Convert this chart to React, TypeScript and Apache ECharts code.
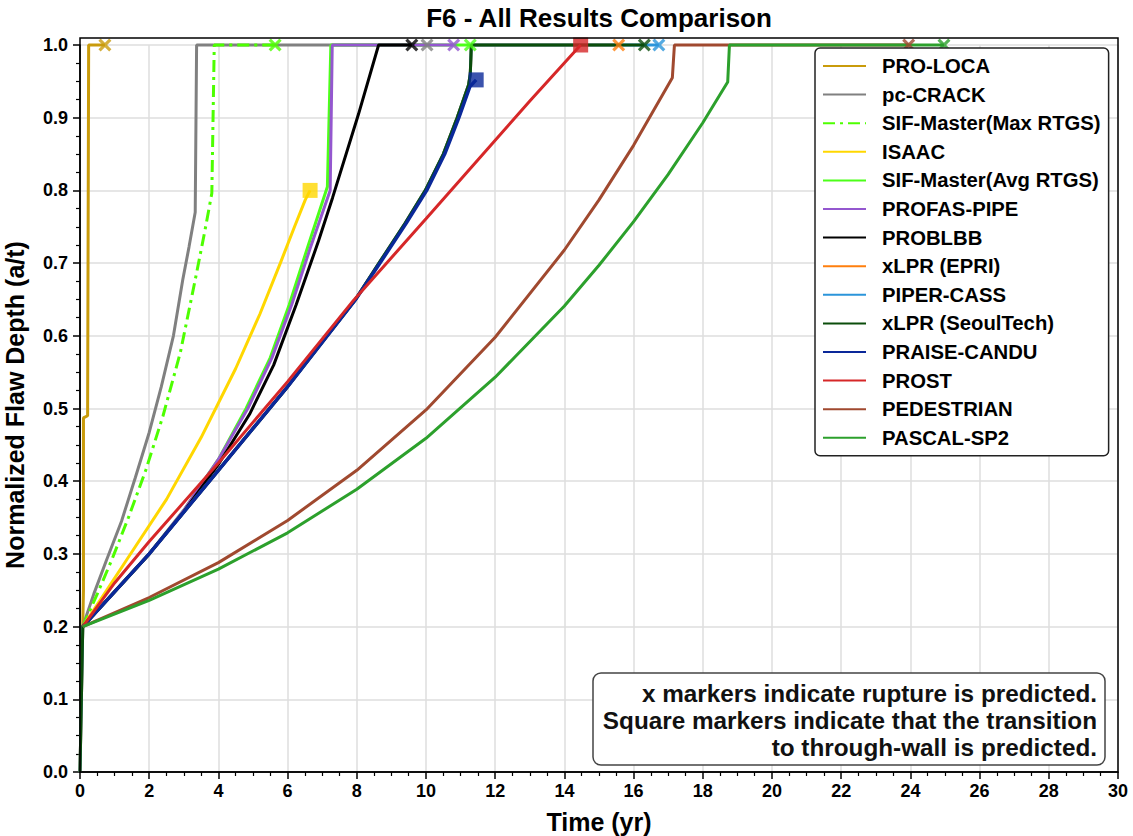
import React, { useEffect, useRef } from "react";
import * as echarts from "echarts";

const FONT = '"Liberation Sans", Arial, Helvetica, sans-serif';

// ---- data (time in years, normalized depth a/t) ----
const proLocaT = [0.08, 0.1, 0.1, 0.22, 0.25, 0.72];
const proLocaV = [0.2, 0.25, 0.487, 0.49, 1.0, 1.0];

const pcCrackT = [0.08, 0.4, 0.77, 1.2, 1.6, 2.0, 2.35, 2.7, 2.97, 3.15, 3.33, 3.37, 10.03];
const pcCrackV = [0.2, 0.245, 0.292, 0.345, 0.405, 0.467, 0.53, 0.6, 0.677, 0.722, 0.77, 1.0, 1.0];

const sifMaxT = [0.08, 0.5, 0.92, 1.4, 1.9, 2.4, 2.9, 3.33, 3.6, 3.81, 3.88, 5.64];
const sifMaxV = [0.2, 0.245, 0.292, 0.35, 0.415, 0.49, 0.577, 0.677, 0.742, 0.796, 1.0, 1.0];

const isaacT = [0.08, 1.35, 2.5, 3.5, 4.5, 5.2, 5.79, 6.2, 6.51, 6.65];
const isaacV = [0.2, 0.292, 0.375, 0.46, 0.555, 0.63, 0.7, 0.75, 0.787, 0.8];

const sifAvgT = [0.08, 2, 3, 4, 4.8, 5.5, 6.05, 6.6, 7.15, 7.25, 11.28];
const sifAvgV = [0.2, 0.3, 0.36, 0.43, 0.5, 0.57, 0.643, 0.725, 0.805, 1.0, 1.0];

const profasT = [0.08, 2, 3, 4, 4.85, 5.55, 6.12, 6.65, 7.23, 7.29, 10.8];
const profasV = [0.2, 0.3, 0.36, 0.43, 0.5, 0.57, 0.643, 0.72, 0.8, 1.0, 1.0];

const problbbT = [0.08, 2, 3, 4, 4.9, 5.6, 6.25, 6.89, 7.3, 8.05, 8.63, 9.59];
const problbbV = [0.2, 0.3, 0.358, 0.423, 0.492, 0.56, 0.643, 0.73, 0.79, 0.905, 1.0, 1.0];

const xlprEpriT = [0, 0.08, 2, 4, 6, 7.95, 8.64, 9.4, 9.98, 10.5, 10.9, 11.23, 11.28, 11.31, 15.57];
const xlprEpriV = [0, 0.2, 0.3, 0.415, 0.53, 0.649, 0.7, 0.755, 0.8, 0.85, 0.9, 0.945, 0.96, 1.0, 1.0];

const piperT = [0, 0.08, 2, 4, 6, 7.95, 8.64, 9.4, 9.98, 10.5, 10.9, 11.23, 11.28, 11.31, 16.73];
const piperV = [0, 0.2, 0.3, 0.415, 0.53, 0.649, 0.7, 0.755, 0.8, 0.85, 0.9, 0.945, 0.96, 1.0, 1.0];

const xlprSeoulT = [0, 0.08, 2, 4, 6, 7.95, 8.64, 9.4, 9.98, 10.5, 10.9, 11.23, 11.28, 11.31, 16.31];
const xlprSeoulV = [0, 0.2, 0.3, 0.415, 0.53, 0.649, 0.7, 0.755, 0.8, 0.85, 0.9, 0.945, 0.96, 1.0, 1.0];

const praiseT = [0.08, 2, 4, 6, 7.95, 8.67, 9.43, 10.02, 10.54, 10.95, 11.27, 11.45];
const praiseV = [0.2, 0.3, 0.415, 0.53, 0.649, 0.7, 0.755, 0.8, 0.85, 0.9, 0.943, 0.952];

const prostT = [0.08, 1, 2, 4, 6, 7.91, 10, 13.02, 14.47];
const prostV = [0.2, 0.26, 0.317, 0.425, 0.537, 0.649, 0.761, 0.924, 1.0];

const pedT = [0.08, 2, 4, 6, 8, 10, 12, 14, 15, 16, 17.12, 17.18, 23.95];
const pedV = [0.2, 0.24, 0.288, 0.346, 0.415, 0.498, 0.598, 0.718, 0.787, 0.862, 0.955, 1.0, 1.0];

const pascalT = [0.08, 2, 4, 6, 8, 10, 12, 14, 15, 16, 17, 18, 18.72, 18.77, 24.97];
const pascalV = [0.2, 0.236, 0.279, 0.329, 0.389, 0.459, 0.543, 0.641, 0.697, 0.757, 0.822, 0.893, 0.949, 1.0, 1.0];

const seriesNames = [
  "PRO-LOCA",
  "pc-CRACK",
  "SIF-Master(Max RTGS)",
  "ISAAC",
  "SIF-Master(Avg RTGS)",
  "PROFAS-PIPE",
  "PROBLBB",
  "xLPR (EPRI)",
  "PIPER-CASS",
  "xLPR (SeoulTech)",
  "PRAISE-CANDU",
  "PROST",
  "PEDESTRIAN",
  "PASCAL-SP2",
];
const seriesColors = [
  "#c99b0b",
  "#808080",
  "#4dff00",
  "#ffd700",
  "#4cff19",
  "#9457cf",
  "#000000",
  "#ff7f0e",
  "#2b95da",
  "#0b4d0b",
  "#0a2899",
  "#d62728",
  "#a0492f",
  "#2ca02c",
];
const seriesT = [proLocaT, pcCrackT, sifMaxT, isaacT, sifAvgT, profasT, problbbT, xlprEpriT, piperT, xlprSeoulT, praiseT, prostT, pedT, pascalT];
const seriesV = [proLocaV, pcCrackV, sifMaxV, isaacV, sifAvgV, profasV, problbbV, xlprEpriV, piperV, xlprSeoulV, praiseV, prostV, pedV, pascalV];

// rupture (x) markers
const ruptureSeries = [0, 1, 2, 4, 5, 6, 7, 8, 9, 12, 13];
const ruptureT = [0.72, 10.03, 5.64, 11.28, 10.8, 9.59, 15.57, 16.73, 16.31, 23.95, 24.97];
const ruptureV = [1.0, 1.0, 1.0, 1.0, 1.0, 1.0, 1.0, 1.0, 1.0, 1.0, 1.0];

// through-wall (square) markers
const squareSeries = [3, 10, 11];
const squareT = [6.65, 11.45, 14.47];
const squareV = [0.8, 0.952, 1.0];

const noteLines = [
  "x markers indicate rupture is predicted.",
  "Square markers indicate that the transition",
  "to through-wall is predicted.",
];

const X_PATH =
  "path://M0,1.7 L1.7,0 L5,3.3 L8.3,0 L10,1.7 L6.7,5 L10,8.3 L8.3,10 L5,6.7 L1.7,10 L0,8.3 L3.3,5 Z";

export default function App() {
  const ref = useRef<HTMLDivElement>(null);

  useEffect(() => {
    const chart = echarts.init(ref.current!, null, { renderer: "svg" });

    const lineSeries = seriesNames.map((name, i) => ({
      type: "line",
      name,
      data: seriesT[i].map((t, k) => [t, seriesV[i][k]]),
      showSymbol: false,
      symbol: "none",
      clip: false,
      z: 2,
      emphasis: { disabled: true },
      itemStyle: { color: seriesColors[i] },
      lineStyle: {
        color: seriesColors[i],
        width: i === 10 ? 3.5 : 3,
        type: i === 2 ? [12, 5, 3, 5] : "solid",
      },
    }));

    const rupture = {
      type: "scatter",
      name: "_rupture",
      symbol: X_PATH,
      symbolSize: 13,
      clip: false,
      z: 3,
      emphasis: { disabled: true },
      data: ruptureT.map((t, k) => ({
        value: [t, ruptureV[k]],
        itemStyle: { color: seriesColors[ruptureSeries[k]] },
      })),
    };
    const squares = {
      type: "scatter",
      name: "_through",
      symbol: "rect",
      symbolSize: 15,
      clip: false,
      z: 3,
      emphasis: { disabled: true },
      data: squareT.map((t, k) => ({
        value: [t, squareV[k]],
        itemStyle: { color: seriesColors[squareSeries[k]] },
      })),
    };

    const axisCommon = {
      axisLine: { show: true, onZero: false, lineStyle: { color: "#000", width: 1.5 } },
      axisTick: { show: true, inside: false, length: 7, lineStyle: { color: "#000", width: 1.5 } },
      minorTick: { show: true, splitNumber: 4, length: 4, lineStyle: { color: "#000", width: 1.2 } },
      splitLine: { show: true, lineStyle: { color: "#dedede", width: 1.5 } },
    };

    const labelStyle = {
      fontFamily: FONT,
      fontWeight: "bold",
      fontSize: 18,
      color: "#000",
    };

    const option = {
      animation: false,
      backgroundColor: "#fff",
      grid: { left: 80, right: 15, top: 45, bottom: 64, containLabel: false },
      xAxis: {
        type: "value",
        min: 0,
        max: 30,
        interval: 2,
        ...axisCommon,
        axisLabel: { ...labelStyle, margin: 10 },
      },
      yAxis: {
        type: "value",
        min: 0,
        max: 1,
        interval: 0.1,
        ...axisCommon,
        axisLabel: {
          ...labelStyle,
          margin: 12,
          formatter: (v: number) => v.toFixed(1),
        },
      },
      legend: {
        data: seriesNames,
        orient: "vertical",
        left: 815,
        top: 48,
        itemWidth: 43,
        itemHeight: 14,
        itemGap: 8.6,
        padding: [8, 8, 8, 7],
        backgroundColor: "#fff",
        borderColor: "#222",
        borderWidth: 1.5,
        borderRadius: 5,
        selectedMode: false,
        z: 10,
        itemStyle: { color: "rgba(0,0,0,0)", borderColor: "rgba(0,0,0,0)", borderWidth: 0, opacity: 0 },
        textStyle: {
          fontFamily: FONT,
          fontWeight: "bold",
          fontSize: 20.3,
          color: "#000",
          lineHeight: 20,
          padding: [0, 0, 0, 11],
        },
      },
      graphic: [
        {
          type: "rect",
          z: 50,
          silent: true,
          shape: { x: 80, y: 38, width: 1038, height: 734 },
          style: { fill: "none", stroke: "#000", lineWidth: 1.5 },
        },
        {
          type: "text",
          z: 50,
          x: 599,
          y: 18,
          style: {
            text: "F6 - All Results Comparison",
            fontFamily: FONT,
            fontWeight: "bold",
            fontSize: 26,
            fill: "#000",
            align: "center",
            verticalAlign: "middle",
          },
        },
        {
          type: "text",
          z: 50,
          x: 599,
          y: 822,
          style: {
            text: "Time (yr)",
            fontFamily: FONT,
            fontWeight: "bold",
            fontSize: 25,
            fill: "#000",
            align: "center",
            verticalAlign: "middle",
          },
        },
        {
          type: "text",
          z: 50,
          x: 15,
          y: 405,
          rotation: Math.PI / 2,
          style: {
            text: "Normalized Flaw Depth (a/t)",
            fontFamily: FONT,
            fontWeight: "bold",
            fontSize: 25,
            fill: "#000",
            align: "center",
            verticalAlign: "middle",
          },
        },
        {
          type: "rect",
          z: 60,
          silent: true,
          shape: { x: 593, y: 673, width: 512, height: 92, r: 8 },
          style: { fill: "#fff", stroke: "#444", lineWidth: 1.5 },
        },
        ...noteLines.map((txt, k) => ({
          type: "text",
          z: 61,
          x: 1097,
          y: 693 + k * 27,
          style: {
            text: txt,
            fontFamily: FONT,
            fontWeight: "bold",
            fontSize: 24.3,
            fill: "#111",
            align: "right",
            verticalAlign: "middle",
          },
        })),
      ],
      series: [...lineSeries, rupture, squares],
    };

    chart.setOption(option as any);
    return () => chart.dispose();
  }, []);

  return (
    <div
      ref={ref}
      style={{ position: "fixed", left: 0, top: 0, width: 1133, height: 836, background: "#fff" }}
    />
  );
}
